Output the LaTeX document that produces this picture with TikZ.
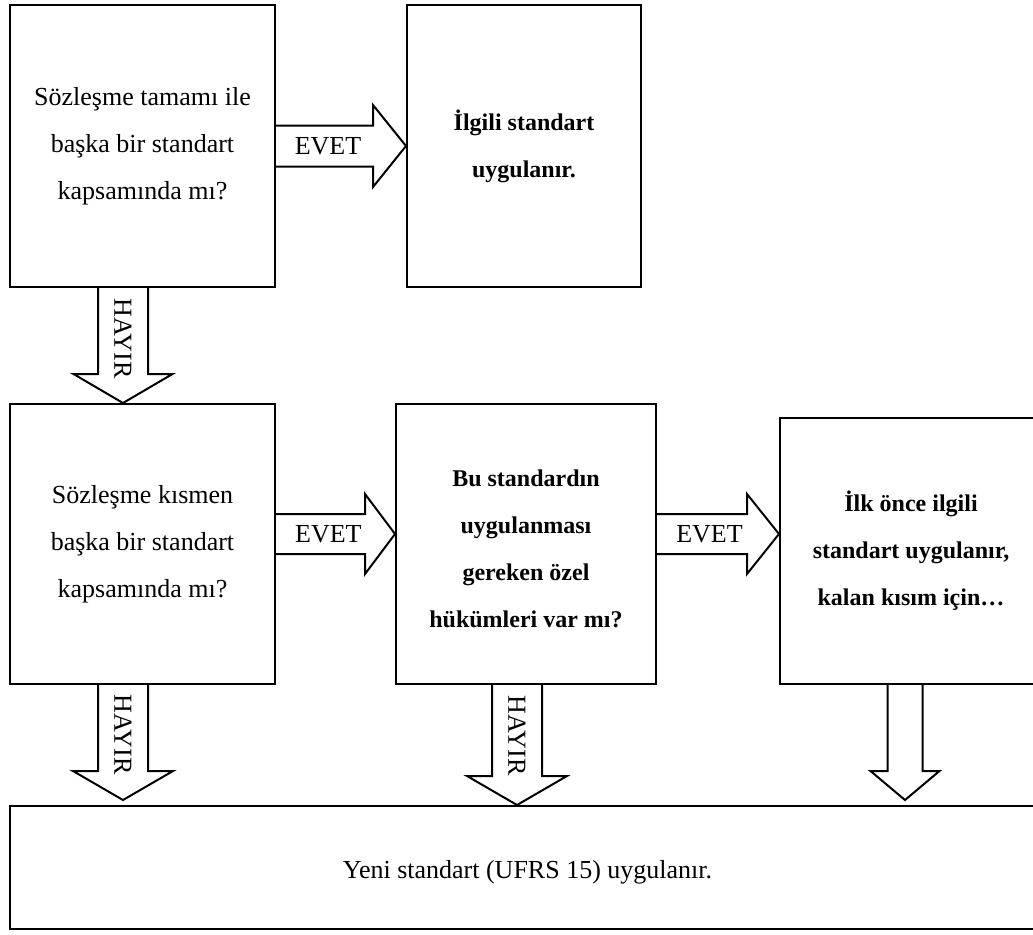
\documentclass[tikz,border=0pt]{standalone}
\usepackage{fontspec}
\setmainfont{Liberation Serif}
\usetikzlibrary{calc}
\newcommand\blkdown[5]{\draw[blk] let \p1=(#1), \p2=(#2) in
  (\x1-#3pt,\y1) -- (\x1-#3pt,\y2+#5pt) -- (\x1-#4pt,\y2+#5pt) -- (\x1,\y2)
  -- (\x1+#4pt,\y2+#5pt) -- (\x1+#3pt,\y2+#5pt) -- (\x1+#3pt,\y1);}
\newcommand\blkright[5]{\draw[blk] let \p1=(#1), \p2=(#2) in
  (\x1,\y1+#3pt) -- (\x2-#5pt,\y1+#3pt) -- (\x2-#5pt,\y1+#4pt) -- (\x2,\y1)
  -- (\x2-#5pt,\y1-#4pt) -- (\x2-#5pt,\y1-#3pt) -- (\x1,\y1-#3pt);}
\begin{document}
\begin{tikzpicture}[x=1pt,y=-1pt,
  box/.style={draw,line width=2pt,inner sep=0pt,anchor=north west},
  blk/.style={draw,line width=2pt,line join=miter},
  txt/.style={align=center,inner sep=0pt,font=\fontsize{26}{47}\selectfont},
  btxt/.style={align=center,inner sep=0pt,font=\fontsize{24}{47}\selectfont\bfseries},
  lab/.style={inner sep=0pt,font=\fontsize{26}{30}\selectfont},
  vlab/.style={inner sep=0pt,rotate=-90,font=\fontsize{26}{30}\selectfont}]
\useasboundingbox (0,0) rectangle (1033,934);
\clip (0,0) rectangle (1033,934);
% boxes
\node[box,minimum width=265pt,minimum height=282pt] (b1) at (9,4) {};
\node[box,minimum width=234pt,minimum height=282pt] (b2) at (406,4) {};
\node[box,minimum width=265pt,minimum height=280pt] (b3) at (9,403) {};
\node[box,minimum width=260pt,minimum height=280pt] (b4) at (395,403) {};
\node[box,minimum width=262pt,minimum height=266pt] (b5) at (779,417) {};
\node[box,minimum width=1045pt,minimum height=123pt] (b6) at (9,805) {};
% texts
\node[txt] (t1) at (b1.center) {Sözleşme tamamı ile\\başka bir standart\\kapsamında mı?};
\node[btxt] (t2) at (b2.center) {İlgili standart\\uygulanır.};
\node[txt] (t3) at (b3.center) {Sözleşme kısmen\\başka bir standart\\kapsamında mı?};
\node[btxt] (t4) at ($(b4.center)+(0,5)$) {Bu standardın\\uygulanması\\gereken özel\\hükümleri var mı?};
\node[btxt] (t5) at (b5.center) {İlk önce ilgili\\standart uygulanır,\\kalan kısım için…};
\node[txt] (t6) at ($(b6.center)+(-5,5)$) {Yeni standart (UFRS 15) uygulanır.};
% connector end points
\coordinate (e1s) at (b1.east);
\coordinate (e1e) at (b2.west);
\coordinate (e2s) at ($(b3.east)+(0,-10)$);
\coordinate (e2e) at (e2s -| b4.west);
\coordinate (e3s) at ($(b4.east)+(0,-10)$);
\coordinate (e3e) at (e3s -| b5.west);
\coordinate (h1s) at ($(b1.south)+(-19.5,0)$);
\coordinate (h1e) at (h1s |- b3.north);
\coordinate (h2s) at ($(b3.south)+(-19.5,0)$);
\coordinate (h2e) at ($(h2s |- b6.north)+(0,-5)$);
\coordinate (h3s) at ($(b4.south)+(-9,0)$);
\coordinate (h3e) at (h3s |- b6.north);
\coordinate (c1s) at ($(b5.south west)+(126,0)$);
\coordinate (c1e) at ($(c1s |- b6.north)+(0,-5)$);
% block arrows
\blkright{e1s}{e1e}{20.5}{41}{33}
\blkright{e2s}{e2e}{20}{40}{30}
\blkright{e3s}{e3e}{20}{40}{32}
\blkdown{h1s}{h1e}{25}{49.5}{29}
\blkdown{h2s}{h2e}{25}{50}{29}
\blkdown{h3s}{h3e}{25}{50}{29}
\blkdown{c1s}{c1e}{17.5}{34.5}{29}
% labels
\node[lab] (l1) at ($(e1s)!0.4!(e1e)$) {EVET};
\node[lab] (l2) at ($(e2s)!0.44!(e2e)$) {EVET};
\node[lab] (l3) at ($(e3s)!0.43!(e3e)$) {EVET};
\node[vlab] (v1) at ($(h1s)!0.44!(h1e)$) {HAYIR};
\node[vlab] (v2) at ($(h2s)!0.43!(h2e)$) {HAYIR};
\node[vlab] (v3) at ($(h3s)!0.42!(h3e)$) {HAYIR};
\end{tikzpicture}
\end{document}
